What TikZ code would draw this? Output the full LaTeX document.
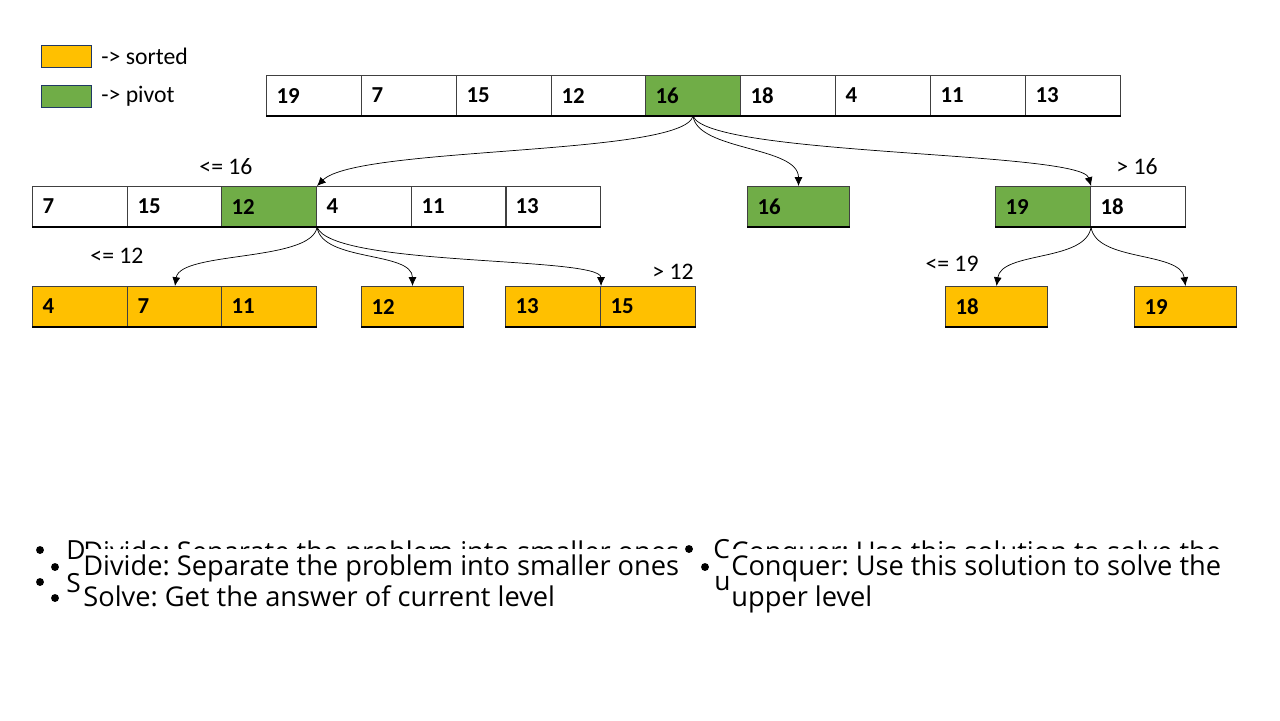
\documentclass[tikz,border=0pt]{standalone}
\usepackage{fontspec}
\setmainfont{Carlito}
\newfontfamily\bodyfont{Open Sans}
\usetikzlibrary{arrows.meta}
\definecolor{sortedc}{HTML}{FFC000}
\definecolor{pivotc}{HTML}{70AD47}
\definecolor{legendline}{HTML}{203864}
\tikzset{
  cell/.style={draw=black!75, line width=0.6pt, anchor=north west, minimum height=0.8cm,
    inner xsep=0.2cm, inner ysep=0pt, text width=#1, align=left,
    font=\fontsize{13}{15}\selectfont\bfseries},
  cell/.default=1.5cm,
  base/.style={line width=1.4pt},
  lbl/.style={font=\fontsize{13.5}{15}\selectfont},
  bul/.style={anchor=base west, font=\bodyfont\frenchspacing\fontsize{15.5}{18}\selectfont, inner sep=0pt},
  ghost/.style={anchor=base west, font=\bodyfont\frenchspacing\fontsize{15}{18}\selectfont, inner sep=0pt},
  dot/.style={circle, fill=black, inner sep=0pt, minimum size=#1},
  dot/.default=4.5pt
}
\begin{document}
\begin{tikzpicture}[x=0.02cm, y=-0.02cm, >={Latex[length=5pt,width=4.5pt]}]
\useasboundingbox (0,0) rectangle (1280,720);
% legend
\node[draw=legendline, fill=sortedc, anchor=north west, minimum width=1cm, minimum height=0.44cm, inner sep=0] (ks) at (41,45) {};
\node[draw=legendline, fill=pivotc, anchor=north west, minimum width=1cm, minimum height=0.44cm, inner sep=0] (kp) at (41,85) {};
\node[lbl, anchor=west, inner sep=0] (kst) at (101,56) {-> sorted};
\node[lbl, anchor=west, inner sep=0] (kpt) at (101,96) {-> pivot};
% first array
\node[cell] (t1) at (266,75) {19};
\node[cell] (t2) at (361,75) {7};
\node[cell] (t3) at (456,75) {15};
\node[cell] (t4) at (551,75) {12};
\node[cell, fill=pivotc] (t5) at (645,75) {16};
\node[cell] (t6) at (740,75) {18};
\node[cell] (t7) at (835,75) {4};
\node[cell] (t8) at (930,75) {11};
\node[cell] (t9) at (1025,75) {13};
\draw[base] (t1.south west) -- (t9.south east);
% second level
\node[cell] (l1) at (32,186) {7};
\node[cell] (l2) at (127,186) {15};
\node[cell, fill=pivotc] (l3) at (221,186) {12};
\node[cell] (l4) at (316,186) {4};
\node[cell] (l5) at (411,186) {11};
\node[cell] (l6) at (505,186) {13};
\draw[base] (l1.south west) -- (l6.south east);
\node[cell=1.64cm, fill=pivotc] (m1) at (747,186) {16};
\draw[base] (m1.south west) -- (m1.south east);
\node[cell, fill=pivotc] (r1) at (995,186) {19};
\node[cell] (r2) at (1090,186) {18};
\draw[base] (r1.south west) -- (r2.south east);
% third level
\node[cell, fill=sortedc] (a1) at (32,286) {4};
\node[cell, fill=sortedc] (a2) at (127,286) {7};
\node[cell, fill=sortedc] (a3) at (221,286) {11};
\draw[base] (a1.south west) -- (a3.south east);
\node[cell=1.64cm, fill=sortedc] (b1) at (361,286) {12};
\draw[base] (b1.south west) -- (b1.south east);
\node[cell, fill=sortedc] (c1) at (505,286) {13};
\node[cell, fill=sortedc] (c2) at (600,286) {15};
\draw[base] (c1.south west) -- (c2.south east);
\node[cell=1.64cm, fill=sortedc] (d1) at (945,286) {18};
\draw[base] (d1.south west) -- (d1.south east);
\node[cell=1.64cm, fill=sortedc] (e1) at (1134,286) {19};
\draw[base] (e1.south west) -- (e1.south east);
% splits
\draw[->] (t5.south) .. controls +(-10,40) and +(40,-40) .. (l3.north east);
\draw[->] (t5.south) .. controls +(5,35) and +(0,-40) .. (m1.north);
\draw[->] (t5.south) .. controls +(15,40) and +(-10,-35) .. (r1.north east);
\draw[->] (l3.south east) .. controls +(-5,35) and +(5,-35) .. (a2.north);
\draw[->] (l3.south east) .. controls +(5,35) and +(0,-35) .. (b1.north);
\draw[->] (l3.south east) .. controls +(15,40) and +(0,-30) .. (c1.north east);
\draw[->] (r1.south east) .. controls +(-5,35) and +(5,-35) .. (d1.north);
\draw[->] (r1.south east) .. controls +(5,35) and +(-5,-35) .. (e1.north);
\node[lbl] (s1) at (226,167) {<= 16};
\node[lbl] (s2) at (1137,167) {> 16};
\node[lbl] (s3) at (117,256) {<= 12};
\node[lbl] (s4) at (673,272) {> 12};
\node[lbl] (s5) at (952,264) {<= 19};
% bottom text (two layers on top of each other)
\begin{scope}
\clip (0,535) rectangle (1280,548);
\node[bul] (g1) at (83,561) {Divide: Separate the problem into smaller ones};
\node[bul] (g3) at (731,561) {Conquer: Use this solution to solve the};
\end{scope}
\node[dot] (g1b) at (40,550) {};
\node[ghost] (g1d) at (66,559) {D};
\node[dot] (g2b) at (40,582) {};
\node[ghost] (g2s) at (66,592) {S};
\node[dot] (g3b) at (689,549) {};
\node[ghost] (g3c) at (713,558) {C};
\node[ghost] (g4u) at (714,590) {u};
\node[dot] (b1t) at (55,567) {};
\node[bul] (b1x) at (83,575) {Divide: Separate the problem into smaller ones};
\node[dot] (b2t) at (55,598) {};
\node[bul] (b2x) at (83,606) {Solve: Get the answer of current level};
\node[dot] (b3t) at (705,567) {};
\node[bul] (b3x) at (731,575) {Conquer: Use this solution to solve the};
\node[bul] (b4x) at (731,606) {upper level};
\end{tikzpicture}
\end{document}
